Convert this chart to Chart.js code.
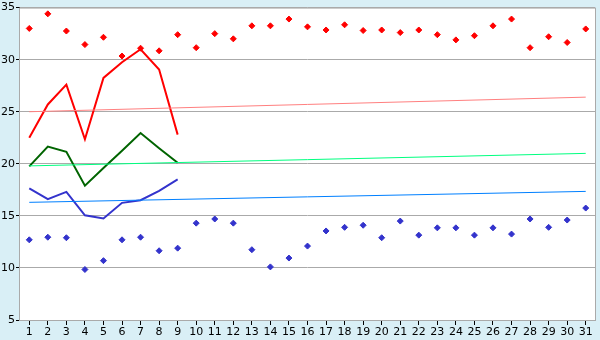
<!DOCTYPE html>
<html>
<head>
<meta charset="utf-8">
<script src="https://cdn.jsdelivr.net/npm/chart.js@4.4.1/dist/chart.umd.min.js"></script>
<style>
  html, body { margin: 0; padding: 0; background: #d9eff6; }
  #wrap { width: 600px; height: 340px; }
</style>
</head>
<body>
<div id="wrap"><canvas id="chart"></canvas></div>
<script>
// Días del mes
const days = ['1','2','3','4','5','6','7','8','9','10','11','12','13','14','15','16',
  '17','18','19','20','21','22','23','24','25','26','27','28','29','30','31'];

// Récords máximos (puntos rojos)
const recordMax = [33.0, 34.4, 32.75, 31.45, 32.15, 30.35, 31.1, 30.85, 32.4, 31.15,
  32.5, 32.0, 33.25, 33.25, 33.9, 33.15, 32.85, 33.35, 32.8, 32.85,
  32.6, 32.85, 32.4, 31.9, 32.3, 33.25, 33.9, 31.15, 32.2, 31.65, 32.95];

// Récords mínimos (puntos azules)
const recordMin = [12.7, 12.95, 12.9, 9.85, 10.7, 12.7, 12.95, 11.65, 11.9, 14.3,
  14.7, 14.3, 11.75, 10.1, 10.95, 12.1, 13.55, 13.9, 14.1, 12.9,
  14.5, 13.15, 13.85, 13.85, 13.15, 13.85, 13.25, 14.7, 13.9, 14.6, 15.75];

// Valores del mes actual (días 1-9)
const maxActual = [22.5, 25.7, 27.6, 22.35, 28.25, 29.75, 31.0, 29.05, 22.8];
const avgActual = [19.75, 21.65, 21.15, 17.9, 19.6, 21.25, 22.95, 21.5, 20.1];
const minActual = [17.65, 16.6, 17.3, 15.05, 14.75, 16.25, 16.5, 17.4, 18.5];

// Normales (solo primer y último día)
const normalMax = [25.0, 26.4];
const normalAvg = [19.8, 21.0];
const normalMin = [16.3, 17.35];

const yTicks = [5, 10, 15, 20, 25, 30, 35];

// Serie de tendencia: extremos en día 1 y día 31
function trend(pair) {
  const arr = days.map(() => null);
  arr[0] = pair[0];
  arr[arr.length - 1] = pair[1];
  return arr;
}

// Fondo del área del gráfico y su borde
const areaPlugin = {
  id: 'area',
  beforeDraw(chart) {
    const { ctx, chartArea: a } = chart;
    ctx.save();
    ctx.fillStyle = '#d9eff6';
    ctx.fillRect(0, 0, chart.width, chart.height);
    ctx.fillStyle = '#ffffff';
    ctx.fillRect(a.left, a.top, a.right - a.left, a.bottom - a.top);
    ctx.restore();
  },
  afterDraw(chart) {
    const { ctx, chartArea: a } = chart;
    ctx.save();
    ctx.strokeStyle = '#aaaaaa';
    ctx.lineWidth = 1;
    ctx.strokeRect(a.left - 0.5, a.top + 0.5, a.right - a.left + 1, a.bottom - a.top);
    ctx.restore();
  }
};

const lineDs = (data, color, width) => ({
  type: 'line', data, borderColor: color, borderWidth: width,
  pointRadius: 0, fill: false, tension: 0, spanGaps: true
});
const pointDs = (data, color) => ({
  type: 'line', data, showLine: false, pointStyle: 'rectRot', pointRadius: 3,
  pointBackgroundColor: color, pointBorderColor: color, pointBorderWidth: 1
});

new Chart(document.getElementById('chart'), {
  type: 'line',
  data: {
    labels: days,
    datasets: [
      lineDs(trend(normalMin), '#0080ff', 1),
      lineDs(trend(normalAvg), '#00ff80', 1),
      lineDs(trend(normalMax), '#ff8080', 1),
      pointDs(recordMin, '#3333cc'),
      pointDs(recordMax, '#ff0000'),
      lineDs(minActual, '#3333cc', 2),
      lineDs(avgActual, '#006400', 2),
      lineDs(maxActual, '#ff0000', 2)
    ]
  },
  options: {
    responsive: true,
    maintainAspectRatio: false,
    animation: false,
    layout: { padding: { top: 5, right: 5, left: 0, bottom: 0 } },
    plugins: { legend: { display: false }, tooltip: { enabled: false } },
    scales: {
      x: {
        offset: true,
        grid: { display: true, drawOnChartArea: false, drawTicks: true, tickLength: 5, color: '#000000', offset: false },
        border: { display: false },
        ticks: { color: '#000000', font: { family: 'DejaVu Sans', size: 11 }, padding: 1, maxRotation: 0, autoSkip: false },
        afterFit(scale) { scale.height = 20; }
      },
      y: {
        min: 5, max: 35,
        afterBuildTicks(scale) { scale.ticks = yTicks.map(v => ({ value: v })); },
        grid: { color: '#aaaaaa', tickLength: 4, tickColor: '#000000' },
        border: { display: false },
        ticks: { color: '#000000', font: { family: 'DejaVu Sans', size: 11 }, padding: 1 },
        afterFit(scale) { scale.width = 20; }
      }
    }
  },
  plugins: [areaPlugin]
});
</script>
</body>
</html>
